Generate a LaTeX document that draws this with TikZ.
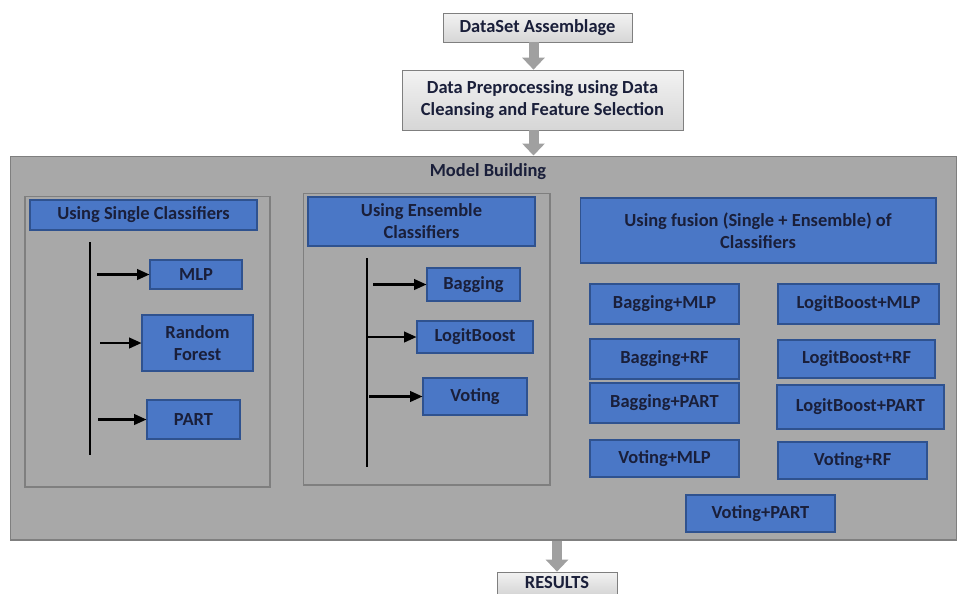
\documentclass[tikz,border=0pt]{standalone}
\usepackage{fontspec}
\setmainfont{Carlito}
\usetikzlibrary{arrows.meta,calc}

\definecolor{boxblue}{HTML}{4A77C6}
\definecolor{boxedge}{HTML}{2F528F}
\definecolor{inkblue}{HTML}{1A1F3A}
\definecolor{panelgray}{HTML}{A8A8A8}
\definecolor{edgegray}{HTML}{7F7F7F}
\definecolor{arrowgray}{HTML}{A0A0A0}

\begin{document}
\begin{tikzpicture}[x=0.02cm, y=-0.02cm, line width=0.6pt,
  label/.style={text=inkblue, font=\bfseries\fontsize{10.5}{12.5}\selectfont, align=center, inner sep=0pt},
  lightbox/.style={label, draw=edgegray, top color=gray!10, bottom color=gray!32, line width=0.4pt},
  bluebox/.style={label, draw=boxedge, fill=boxblue},
  panel/.style={draw=edgegray, fill=panelgray, inner sep=0pt},
  spine/.style={line width=1.2pt},
  link/.style={line width=1.2pt, -{Triangle[length=7pt,width=6pt]}},
  blockarrow/.style={arrowgray, line width=0.2cm, -{Triangle[length=0.24cm,width=0.44cm]}}]

\useasboundingbox (0,0) rectangle (957,593);

\node [lightbox, minimum width=3.78cm, minimum height=0.58cm] (assem) at (537.5,27.5) {DataSet Assemblage};
\node [lightbox, minimum width=5.62cm, minimum height=1.2cm] (prep) at (542.5,100) {Data Preprocessing using Data\\Cleansing and Feature Selection};
\node [panel, minimum width=18.94cm, minimum height=7.68cm] (model) at (483.5,348) {};
\node [label] (mbtitle) at (488,172) {Model Building};
\node [lightbox, minimum width=2.4cm, minimum height=0.44cm] (results) at (557,583) {RESULTS};

\draw [blockarrow] ([xshift=-0.08cm]assem.south) -- ([xshift=-0.08cm]assem.south |- prep.north);
\draw [blockarrow] ([xshift=-0.18cm]prep.south) -- ([xshift=-0.18cm]prep.south |- model.north);
\draw [blockarrow] (results.north |- model.south) -- (results.north);

\node [panel, minimum width=4.9cm, minimum height=5.82cm] (single) at (147.5,341.5) {};
\node [panel, minimum width=4.94cm, minimum height=5.84cm] (ensemble) at (426.5,339) {};

\node [bluebox, minimum width=4.54cm, minimum height=0.6cm] (singlehd) at (143.5,215) {Using Single Classifiers};
\node [bluebox, minimum width=1.84cm, minimum height=0.58cm] (mlp) at (196,274.5) {MLP};
\node [bluebox, minimum width=2.22cm, minimum height=1.12cm] (rf) at (197.5,343) {Random\\Forest};
\node [bluebox, minimum width=1.86cm, minimum height=0.78cm] (part) at (193.5,419.5) {PART};

\coordinate (stop) at (90,242);
\coordinate (sbot) at (90,455);
\draw [spine] (stop) -- (sbot);
\draw [link] ($(stop |- mlp.west)+(7,0)$) -- (mlp.west);
\draw [link] ($(stop |- rf.west)+(10,0)$) -- (rf.west);
\draw [link] ($(stop |- part.west)+(8,0)$) -- (part.west);

\node [bluebox, minimum width=4.54cm, minimum height=0.98cm] (enshd) at (421.5,221.5) {Using Ensemble\\Classifiers};
\node [bluebox, minimum width=1.86cm, minimum height=0.66cm] (bag) at (473.5,284.5) {Bagging};
\node [bluebox, minimum width=2.32cm, minimum height=0.64cm] (logit) at (475,337) {LogitBoost};
\node [bluebox, minimum width=2.08cm, minimum height=0.74cm] (vot) at (475,396.5) {Voting};

\coordinate (etop) at (367,258);
\coordinate (ebot) at (367,467);
\draw [spine] (etop) -- (ebot);
\draw [link] ($(etop |- bag.west)+(6,0)$) -- (bag.west);
\draw [link] (etop |- logit.west) -- (logit.west);
\draw [link] ($(etop |- vot.west)+(2,0)$) -- (vot.west);

\node [bluebox, minimum width=7.12cm, minimum height=1.3cm] (fushd) at (758,230.5) {Using fusion (Single + Ensemble) of\\Classifiers};
\node [bluebox, minimum width=2.98cm, minimum height=0.8cm] (bmlp) at (664.5,304) {Bagging+MLP};
\node [bluebox, minimum width=3.22cm, minimum height=0.8cm] (lmlp) at (858.5,304) {LogitBoost+MLP};
\node [bluebox, minimum width=2.98cm, minimum height=0.8cm] (brf) at (664.5,359) {Bagging+RF};
\node [bluebox, minimum width=3.14cm, minimum height=0.76cm] (lrf) at (856.5,359) {LogitBoost+RF};
\node [bluebox, minimum width=2.98cm, minimum height=0.8cm] (bpart) at (664.5,403) {Bagging+PART};
\node [bluebox, minimum width=3.34cm, minimum height=0.88cm] (lpart) at (860.5,407) {LogitBoost+PART};
\node [bluebox, minimum width=2.98cm, minimum height=0.74cm] (vmlp) at (664.5,458.5) {Voting+MLP};
\node [bluebox, minimum width=2.98cm, minimum height=0.74cm] (vrf) at (852.5,460.5) {Voting+RF};
\node [bluebox, minimum width=2.98cm, minimum height=0.74cm] (vpart) at (760.5,513.5) {Voting+PART};

\end{tikzpicture}
\end{document}
